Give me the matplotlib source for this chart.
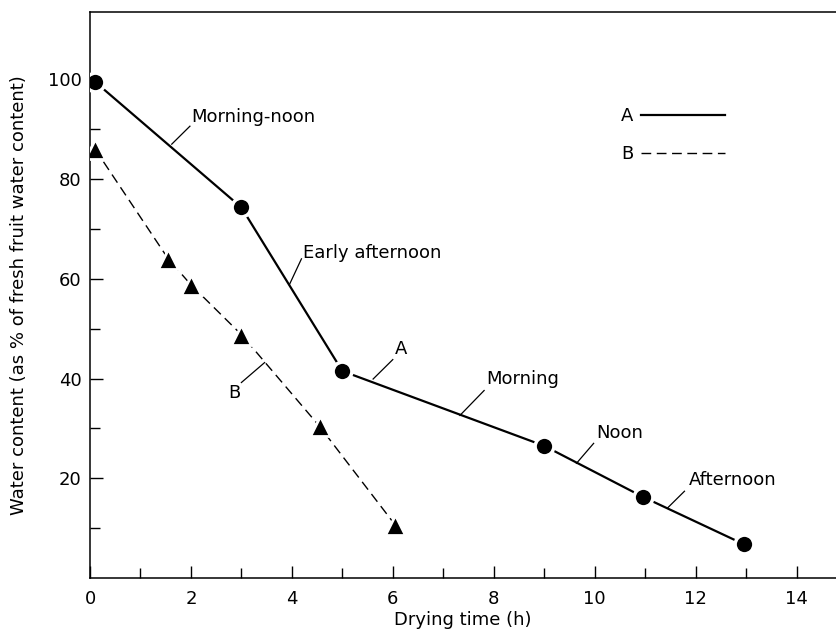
import matplotlib
matplotlib.use("Agg")
import matplotlib.pyplot as plt
from matplotlib.lines import Line2D

# Data
a_time = [0.1, 3.0, 5.0, 9.0, 10.95, 12.95]
a_water = [99.5, 74.3, 41.5, 26.5, 16.3, 6.8]
b_time = [0.1, 1.55, 2.0, 3.0, 4.55, 6.05]
b_water = [86.0, 64.0, 58.8, 48.8, 30.4, 10.6]

x_major = [0, 2, 4, 6, 8, 10, 12, 14]
x_minor = [1, 3, 5, 7, 9, 11, 13]
y_major = [20, 40, 60, 80, 100]
y_minor = [10, 30, 50, 70, 90]

# Annotations: (text, leader start, leader end, text position)
annotations = [
    ("Morning-noon", (1.62, 87.0), (1.98, 90.6), (2.0, 92.4)),
    ("Early afternoon", (3.95, 58.8), (4.19, 64.0), (4.22, 65.2)),
    ("A", (5.61, 39.9), (6.0, 43.8), (6.05, 46.0)),
    ("Morning", (7.33, 32.6), (7.81, 37.6), (7.85, 40.0)),
    ("Noon", (9.64, 23.0), (9.98, 27.0), (10.04, 29.0)),
    ("Afternoon", (11.44, 14.0), (11.78, 17.4), (11.86, 19.6)),
]
b_annot = ("B", (3.46, 43.2), (3.0, 39.2), (2.87, 37.0))

plt.rcParams['font.family'] = ['DejaVu Sans']

fig = plt.figure(figsize=(8.36, 6.37), dpi=100)
ax = fig.add_axes([90/836, 59/637, 1 - 90/836, (578 - 12)/637])

ax.plot(a_time, a_water, '-', color='black', lw=1.6, marker='o', ms=13.5,
        mfc='black', mec='white', mew=2.5, zorder=3)
ax.plot(b_time, b_water, color='black', lw=1.0, dashes=(7, 4), marker='^',
        ms=14.5, mfc='black', mec='white', mew=2.0, zorder=3)

for text, p0, p1, pt in annotations:
    ax.plot([p0[0], p1[0]], [p0[1], p1[1]], color='black', lw=0.9)
    ax.text(pt[0], pt[1], text, fontsize=13, ha='left', va='center')

text, p0, p1, pt = b_annot
ax.plot([p0[0], p1[0]], [p0[1], p1[1]], color='black', lw=0.9)
ax.text(pt[0], pt[1], text, fontsize=13, ha='center', va='center')

ax.set_xlim(0, (836 - 88) / 50.6)
ax.set_ylim(0, 113.5)
ax.set_xticks(x_major)
ax.set_xticks(x_minor, minor=True)
ax.set_yticks(y_major)
ax.set_yticks(y_minor, minor=True)
ax.set_xticklabels([str(v) for v in x_major], fontsize=13)
ax.set_yticklabels([str(v) for v in y_major], fontsize=13)
ax.tick_params(which='major', direction='in', length=9, width=1)
ax.tick_params(which='minor', direction='in', length=7, width=1)
ax.tick_params(axis='x', which='major', pad=9)
ax.tick_params(axis='y', which='major', pad=6)

ax.spines['right'].set_visible(False)
for s in ['left', 'bottom', 'top']:
    ax.spines[s].set_linewidth(1.1)

ax.set_xlabel("Drying time (h)", fontsize=13, labelpad=2)
ax.set_ylabel("Water content (as % of fresh fruit water content)", fontsize=13,
              labelpad=14)

# Legend
handles = [Line2D([], [], color='black', lw=1.6),
           Line2D([], [], color='black', lw=1.0, dashes=(7, 4))]
ax.legend(handles, ["A", "B"], loc='upper left', bbox_to_anchor=(0.69, 0.86),
          frameon=False, markerfirst=False, handlelength=4.7, fontsize=13,
          labelspacing=1.1, handletextpad=0.4)

fig.savefig("out.png", dpi=100)
